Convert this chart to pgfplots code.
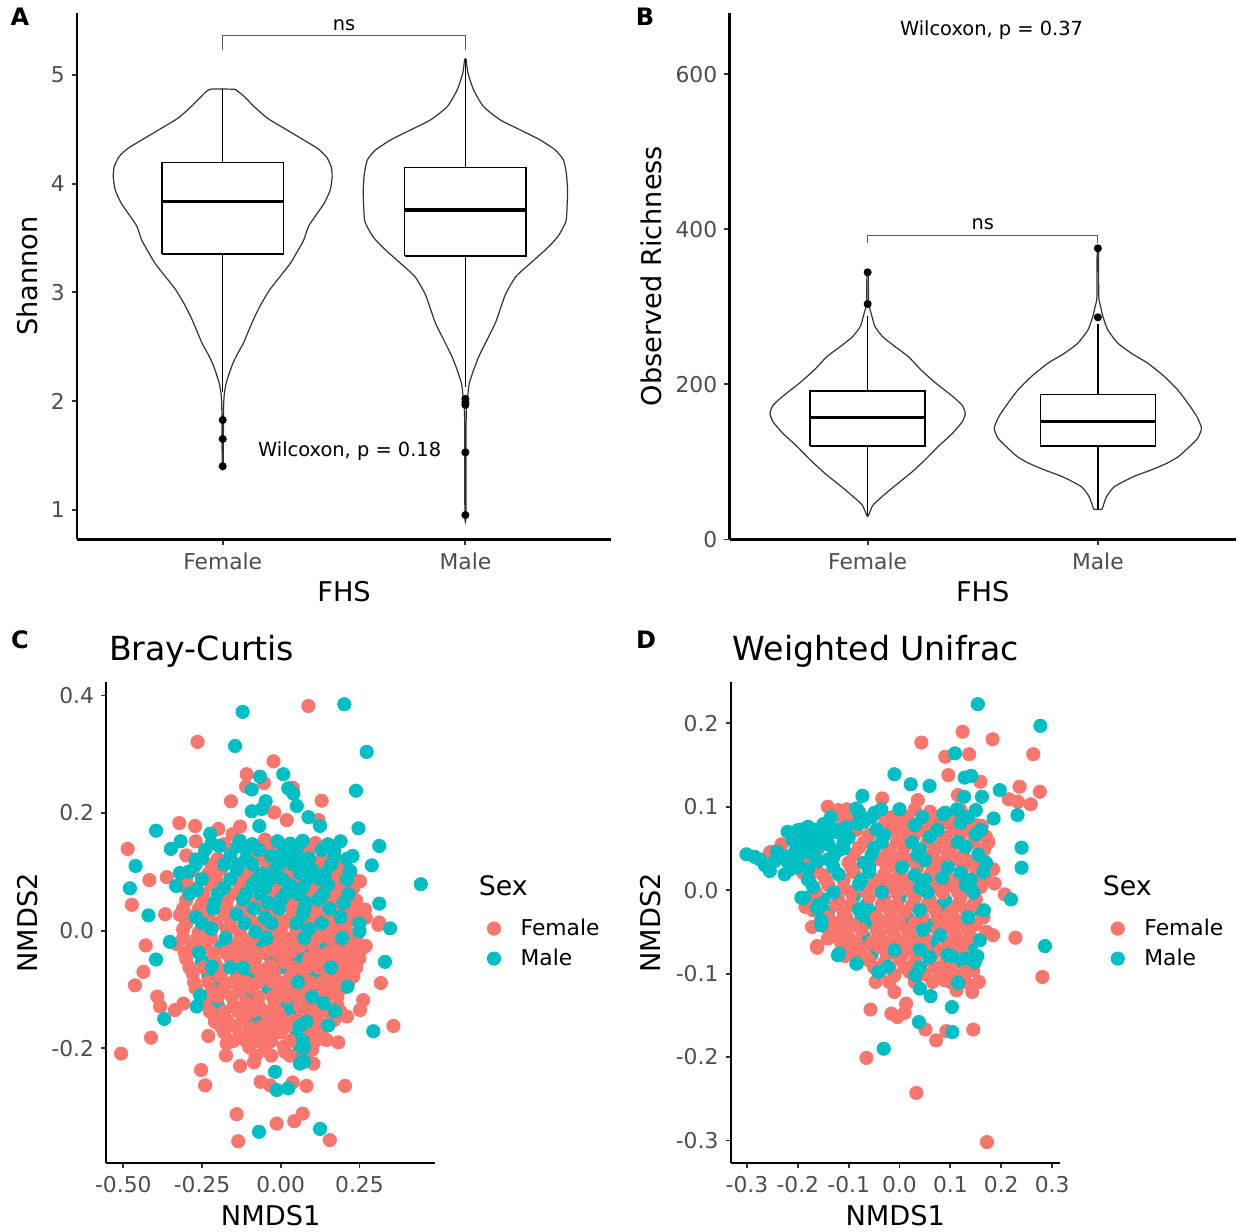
\documentclass[border=0pt]{standalone}
\usepackage{fontspec}
\setmainfont{DejaVu Sans}
\usepackage{pgfplots}
\pgfplotsset{compat=1.18}
\definecolor{fem}{HTML}{F8766D}
\definecolor{mal}{HTML}{00BFC4}
\definecolor{tickgray}{HTML}{4D4D4D}
\definecolor{vline}{HTML}{333333}
\pgfplotsset{
  gg/.style={
    scale only axis, anchor=south west,
    axis x line*=bottom, axis y line*=left,
    axis line style={line width=1.1pt, black, -},
    tick align=outside, major tick length=2.6pt,
    every tick/.style={line width=0.9pt, black!80},
    tick label style={font=\fontsize{10.9}{13}\selectfont, text=tickgray},
    xticklabel style={anchor=north, inner sep=0pt},
    yticklabel style={anchor=east, inner sep=0pt},
    xticklabel shift=3.8pt, yticklabel shift=3.35pt,
    label style={font=\fontsize{13.6}{16}\selectfont},
    clip=false,
  },
  vio/.style={draw=vline, line width=0.6pt, fill=white, smooth, tension=0.35, mark=none},
  bx/.style={draw=black, line width=0.75pt, fill=white, mark=none},
  wh/.style={draw=black, line width=0.75pt, mark=none},
  md/.style={draw=black, line width=1.7pt, mark=none},
  outl/.style={only marks, mark=*, mark size=1.8pt, black},
  sc/.style={only marks, mark=*, mark size=3.33pt},
  sleg/.style={legend style={draw=none, fill=none, inner sep=0pt, font=\fontsize{10.9}{13}\selectfont, row sep=1.2pt, /tikz/every odd column/.append style={column sep=8pt}}, legend cell align=left},
}
\begin{document}
\begin{tikzpicture}
\path[use as bounding box] (0,0) rectangle (619.5pt,616pt);
% ---------------- Panel A ----------------
\begin{axis}[gg, at={(38.55pt,346.25pt)}, width=266.95pt, height=263.35pt,
  xmin=0.4, xmax=2.6, ymin=0.726, ymax=5.573,
  xtick={1,2}, xticklabels={Female,Male},
  ytick={1,2,3,4,5}, yticklabels={1,2,3,4,5},
  xlabel={FHS}, ylabel={Shannon},
  xlabel style={at={([yshift=-26.25pt]axis description cs:0.5,0)}, anchor=center},
  ylabel style={at={([xshift=-24.7pt]axis description cs:0,0.5)}, anchor=center},
]
\addplot[vio] coordinates {(1.052,4.869) (1.089,4.802) (1.130,4.709) (1.185,4.602) (1.253,4.510) (1.322,4.418) (1.390,4.326) (1.427,4.249) (1.447,4.157) (1.451,4.065) (1.443,3.942) (1.418,3.820) (1.380,3.697) (1.353,3.605) (1.334,3.482) (1.311,3.390) (1.279,3.268) (1.236,3.145) (1.193,3.022) (1.160,2.899) (1.132,2.777) (1.108,2.654) (1.085,2.531) (1.062,2.439) (1.042,2.347) (1.027,2.255) (1.014,2.163) (1.007,2.071) (1.004,1.979) (1.003,1.8) (1.002,1.40)
(0.998,1.40) (0.997,1.8) (0.996,1.979) (0.993,2.071) (0.986,2.163) (0.973,2.255) (0.958,2.347) (0.938,2.439) (0.915,2.531) (0.892,2.654) (0.868,2.777) (0.840,2.899) (0.807,3.022) (0.764,3.145) (0.721,3.268) (0.689,3.390) (0.666,3.482) (0.647,3.605) (0.620,3.697) (0.582,3.820) (0.557,3.942) (0.549,4.065) (0.553,4.157) (0.573,4.249) (0.610,4.326) (0.678,4.418) (0.747,4.510) (0.815,4.602) (0.870,4.709) (0.911,4.802) (0.948,4.869) (1.052,4.869)};
\addplot[vio] coordinates {(2.003,5.145) (2.011,5.016) (2.034,4.863) (2.075,4.709) (2.144,4.587) (2.226,4.495) (2.308,4.403) (2.370,4.311) (2.404,4.219) (2.416,4.096) (2.421,3.942) (2.419,3.789) (2.414,3.651) (2.381,3.513) (2.329,3.390) (2.267,3.267) (2.208,3.145) (2.167,2.991) (2.147,2.869) (2.123,2.715) (2.089,2.562) (2.055,2.408) (2.034,2.286) (2.016,2.163) (2.011,2.071) (2.005,1.948) (2.003,1.795) (2.002,0.95)
(1.998,0.95) (1.997,1.795) (1.995,1.948) (1.989,2.071) (1.984,2.163) (1.966,2.286) (1.945,2.408) (1.911,2.562) (1.877,2.715) (1.853,2.869) (1.833,2.991) (1.792,3.145) (1.733,3.267) (1.671,3.390) (1.619,3.513) (1.586,3.651) (1.581,3.789) (1.579,3.942) (1.584,4.096) (1.596,4.219) (1.630,4.311) (1.692,4.403) (1.774,4.495) (1.856,4.587) (1.925,4.709) (1.966,4.863) (1.989,5.016) (1.997,5.145) (2.003,5.145)};
\addplot[wh] coordinates {(1,4.194) (1,4.869)};
\addplot[wh] coordinates {(1,3.353) (1,2.086)};
\addplot[wh] coordinates {(2,4.148) (2,5.145)};
\addplot[wh] coordinates {(2,3.335) (2,2.132)};
\addplot[bx] coordinates {(0.75,3.353) (1.25,3.353) (1.25,4.194) (0.75,4.194) (0.75,3.353)};
\addplot[bx] coordinates {(1.75,3.335) (2.25,3.335) (2.25,4.148) (1.75,4.148) (1.75,3.335)};
\addplot[md] coordinates {(0.75,3.835) (1.25,3.835)};
\addplot[md] coordinates {(1.75,3.758) (2.25,3.758)};
\addplot[outl] coordinates {(1,1.826) (1,1.651) (1,1.40) (2,2.02) (2,1.99) (2,1.965) (2,1.528) (2,0.951)};
\addplot[draw=black!65, line width=0.5pt, mark=none] coordinates {(1,5.233) (1,5.362) (2,5.362) (2,5.233)};
\node[anchor=base, font=\fontsize{9.7}{11}\selectfont] at (axis cs:1.5,5.411) {ns};
\node[anchor=base, font=\fontsize{9.7}{11}\selectfont] at (axis cs:1.523,1.494) {Wilcoxon, p = 0.18};
\end{axis}
% ---------------- Panel B ----------------
\begin{axis}[gg, at={(364.75pt,346.25pt)}, width=253.25pt, height=263.35pt,
  xmin=0.4, xmax=2.6, ymin=0, ymax=679.2,
  xtick={1,2}, xticklabels={Female,Male},
  ytick={0,200,400,600}, yticklabels={0,200,400,600},
  xlabel={FHS}, ylabel={Observed Richness},
  xlabel style={at={([yshift=-26.25pt]axis description cs:0.5,0)}, anchor=center},
  ylabel style={at={([xshift=-39.3pt]axis description cs:0,0.5)}, anchor=center},
]
\addplot[vio] coordinates {(1.003,344.7) (1.004,303.8) (1.007,300.4) (1.019,287.5) (1.032,274.6) (1.065,261.6) (1.119,248.7) (1.177,235.8) (1.232,218.6) (1.297,201.4) (1.362,186.3) (1.410,173.4) (1.424,162.6) (1.411,151.8) (1.368,136.8) (1.305,119.5) (1.248,102.3) (1.185,85.1) (1.113,67.9) (1.061,54.9) (1.023,44.2) (1.007,33.4) (1.001,30.0)
(0.999,30.0) (0.993,33.4) (0.977,44.2) (0.939,54.9) (0.887,67.9) (0.815,85.1) (0.752,102.3) (0.695,119.5) (0.632,136.8) (0.589,151.8) (0.576,162.6) (0.590,173.4) (0.638,186.3) (0.703,201.4) (0.768,218.6) (0.823,235.8) (0.881,248.7) (0.935,261.6) (0.968,274.6) (0.981,287.5) (0.993,300.4) (0.996,303.8) (0.997,344.7) (1.003,344.7)};
\addplot[vio] coordinates {(2.003,375.7) (2.004,313.3) (2.012,300.4) (2.022,287.5) (2.043,270.3) (2.087,253.1) (2.145,240.2) (2.217,227.3) (2.289,210.1) (2.347,192.9) (2.391,175.7) (2.430,158.5) (2.450,143.5) (2.434,130.6) (2.398,119.8) (2.350,106.9) (2.300,98.3) (2.232,89.7) (2.155,81.1) (2.072,68.2) (2.038,55.3) (2.022,42.4) (2.017,39.0)
(1.983,39.0) (1.978,42.4) (1.962,55.3) (1.928,68.2) (1.845,81.1) (1.768,89.7) (1.700,98.3) (1.650,106.9) (1.602,119.8) (1.566,130.6) (1.550,143.5) (1.570,158.5) (1.609,175.7) (1.653,192.9) (1.711,210.1) (1.783,227.3) (1.855,240.2) (1.913,253.1) (1.957,270.3) (1.978,287.5) (1.988,300.4) (1.996,313.3) (1.997,375.7) (2.003,375.7)};
\addplot[wh] coordinates {(1,191.5) (1,288)};
\addplot[wh] coordinates {(1,120.6) (1,30)};
\addplot[wh] coordinates {(2,187.2) (2,278)};
\addplot[wh] coordinates {(2,120.6) (2,39)};
\addplot[bx] coordinates {(0.75,120.6) (1.25,120.6) (1.25,191.5) (0.75,191.5) (0.75,120.6)};
\addplot[bx] coordinates {(1.75,120.6) (2.25,120.6) (2.25,187.2) (1.75,187.2) (1.75,120.6)};
\addplot[md] coordinates {(0.75,157.1) (1.25,157.1)};
\addplot[md] coordinates {(1.75,151.9) (2.25,151.9)};
\addplot[outl] coordinates {(1,344.5) (1,303.7) (2,375.5) (2,286.5)};
\addplot[draw=black!65, line width=0.5pt, mark=none] coordinates {(1,382.1) (1,392.6) (2,392.6) (2,382.1)};
\node[anchor=base, font=\fontsize{9.7}{11}\selectfont] at (axis cs:1.5,399.6) {ns};
\node[anchor=base, font=\fontsize{9.7}{11}\selectfont] at (axis cs:1.538,649.5) {Wilcoxon, p = 0.37};
\end{axis}
% ---------------- Panel C ----------------
\begin{axis}[gg, sleg, at={(53.15pt,34.5pt)}, width=164.35pt, height=240.25pt,
  xmin=-0.554, xmax=0.490, ymin=-0.395, ymax=0.422,
  xtick={-0.5,-0.25,0,0.25}, xticklabels={-0.50,-0.25,0.00,0.25},
  ytick={-0.2,0,0.2,0.4}, yticklabels={-0.2,0.0,0.2,0.4},
  xlabel={NMDS1}, ylabel={NMDS2},
  xlabel style={at={([yshift=-26.1pt]axis description cs:0.5,0)}, anchor=center},
  ylabel style={at={([xshift=-39.3pt]axis description cs:0,0.5)}, anchor=center},
  legend style={at={(axis description cs:1.158,0.4566)}, anchor=west},
]
\addplot[sc, mal, forget plot] coordinates {(-0.19,-0.027) (-0.06,-0.023) (0.14,-0.027) (-0.25,-0.052) (-0.03,-0.047) (0.05,-0.052) (-0.23,-0.077) (-0.10,-0.072) (0.11,-0.078) (-0.04,-0.098) (-0.20,-0.127) (0.02,-0.122) (0.14,-0.128) (-0.08,-0.152) (0.08,-0.148) (0.05,-0.177) (0.06,-0.203)
(-0.095,-0.0375) (0.07,-0.0375) (0.0,-0.0625) (-0.19,-0.0875) (-0.11,-0.1125) (0.03,-0.1375)};
\addplot[sc, fem] coordinates {(0.088,0.382) (-0.264,0.321) (-0.023,0.288) (-0.108,0.266) (-0.053,0.251) (-0.110,0.245) (0.038,0.243) (-0.158,0.220) (0.130,0.221) (-0.021,0.201) (0.019,0.188) (-0.322,0.183) (-0.272,0.178) (-0.198,0.173) (-0.129,0.177) (-0.153,0.164) (0.120,0.188) (0.167,0.143) (-0.486,0.139) (-0.417,0.086) (-0.362,0.091) (-0.473,0.044) (-0.367,0.028) (-0.309,0.026) (-0.272,0.026) (0.313,0.014) (0.268,0.036) (0.252,0.084) (0.226,0.090)
(-0.429,-0.025) (-0.436,-0.070) (-0.463,-0.093) (-0.392,-0.112) (-0.383,-0.129) (-0.336,-0.135) (-0.309,-0.124) (-0.412,-0.182) (-0.507,-0.209) (-0.230,-0.179) (-0.172,-0.192) (-0.174,-0.212) (-0.113,-0.186) (-0.253,-0.237) (-0.240,-0.263) (-0.129,-0.230) (-0.085,-0.224) (-0.064,-0.257) (-0.034,-0.263) (0.038,-0.258) (0.082,-0.264) (0.104,-0.226) (0.204,-0.264) (0.358,-0.162) (0.318,-0.089) (0.252,-0.135) (0.262,-0.118) (0.183,-0.190) (0.146,-0.186) (-0.140,-0.312) (-0.135,-0.358) (-0.013,-0.328) (0.043,-0.324) (0.070,-0.311) (0.156,-0.356) (0.014,-0.206) (-0.039,-0.180) (-0.209,-0.155) (0.231,-0.027) (0.262,-0.029) (0.310,0.010) (0.210,-0.146)
(-0.27,0.152) (-0.18,0.147) (-0.05,0.155) (0.11,0.149)
(-0.30,0.128) (-0.20,0.122) (-0.07,0.127) (0.13,0.121)
(-0.28,0.102) (-0.23,0.097) (-0.19,0.104) (-0.10,0.099) (0.02,0.103) (0.18,0.098)
(-0.31,0.076) (-0.27,0.072) (-0.22,0.079) (-0.13,0.074) (-0.01,0.077) (0.11,0.073) (0.19,0.078) (0.23,0.072)
(-0.30,0.052) (-0.25,0.047) (-0.17,0.053) (-0.08,0.048) (0.04,0.052) (0.16,0.047) (0.24,0.051)
(-0.32,0.027) (-0.23,0.022) (-0.18,0.028) (-0.10,0.023) (-0.01,0.026) (0.03,0.021) (0.11,0.027) (0.15,0.023) (0.23,0.026) (0.27,0.022)
(-0.31,0.002) (-0.26,-0.003) (-0.17,0.001) (-0.13,-0.002) (-0.04,0.003) (0.00,-0.001) (0.05,0.002) (0.13,-0.003) (0.17,0.002) (0.21,-0.002)
(-0.33,-0.023) (-0.28,-0.028) (-0.24,-0.022) (-0.15,-0.027) (-0.11,-0.022) (-0.02,-0.026) (0.02,-0.021) (0.06,-0.027) (0.10,-0.023) (0.18,-0.028) (0.22,-0.022) (0.27,-0.026)
(-0.30,-0.048) (-0.21,-0.053) (-0.16,-0.047) (-0.12,-0.052) (-0.08,-0.048) (0.01,-0.053) (0.09,-0.047) (0.13,-0.052) (0.17,-0.048) (0.21,-0.053) (0.25,-0.047)
(-0.28,-0.073) (-0.19,-0.078) (-0.14,-0.072) (-0.06,-0.077) (-0.02,-0.073) (0.03,-0.078) (0.07,-0.072) (0.15,-0.077) (0.19,-0.073) (0.23,-0.078)
(-0.27,-0.098) (-0.22,-0.103) (-0.18,-0.097) (-0.13,-0.102) (-0.09,-0.098) (0.00,-0.103) (0.04,-0.097) (0.08,-0.102) (0.12,-0.098) (0.16,-0.103) (0.20,-0.097)
(-0.24,-0.123) (-0.15,-0.128) (-0.11,-0.122) (-0.07,-0.127) (-0.02,-0.123) (0.06,-0.128) (0.10,-0.122) (0.18,-0.127)
(-0.21,-0.148) (-0.17,-0.153) (-0.12,-0.147) (-0.04,-0.152) (0.00,-0.148) (0.04,-0.153) (0.12,-0.147) (0.17,-0.152)
(-0.18,-0.173) (-0.13,-0.178) (-0.09,-0.172) (-0.05,-0.177) (0.00,-0.173) (0.09,-0.178) (0.13,-0.172)
(-0.10,-0.198) (-0.05,-0.203) (0.01,-0.197) (0.10,-0.202)
(-0.06,0.01) (0.08,-0.01) (0.14,-0.065) (0.06,-0.085) (-0.03,-0.06) (0.19,-0.04) (-0.09,-0.035) (0.1,0.04)
(-0.155,0.1375) (-0.03,0.1375) (0.09,0.1375)
(-0.22,0.1125) (-0.045,0.1125) (0.12,0.1125) (0.20,0.1125)
(-0.30,0.0875) (-0.205,0.0875) (-0.12,0.0875) (0.045,0.0875) (0.165,0.0875)
(-0.245,0.0625) (-0.155,0.0625) (-0.025,0.0625) (0.095,0.0625) (0.175,0.0625)
(-0.31,0.0375) (-0.26,0.0375) (-0.17,0.0375) (-0.125,0.0375) (-0.045,0.0375) (0.035,0.0375) (0.115,0.0375) (0.195,0.0375) (0.235,0.0375)
(-0.30,0.0125) (-0.205,0.0125) (-0.16,0.0125) (-0.075,0.0125) (0.01,0.0125) (0.09,0.0125) (0.17,0.0125) (0.21,0.0125)
(-0.31,-0.0125) (-0.265,-0.0125) (-0.22,-0.0125) (-0.13,-0.0125) (-0.09,-0.0125) (-0.005,-0.0125) (0.035,-0.0125) (0.115,-0.0125) (0.155,-0.0125) (0.24,-0.0125)
(-0.305,-0.0375) (-0.215,-0.0375) (-0.175,-0.0375) (-0.135,-0.0375) (-0.05,-0.0375) (-0.01,-0.0375) (0.03,-0.0375) (0.11,-0.0375) (0.15,-0.0375) (0.19,-0.0375) (0.23,-0.0375)
(-0.29,-0.0625) (-0.245,-0.0625) (-0.20,-0.0625) (-0.12,-0.0625) (-0.08,-0.0625) (-0.04,-0.0625) (0.04,-0.0625) (0.08,-0.0625) (0.12,-0.0625) (0.20,-0.0625) (0.24,-0.0625)
(-0.275,-0.0875) (-0.23,-0.0875) (-0.15,-0.0875) (-0.11,-0.0875) (-0.07,-0.0875) (-0.025,-0.0875) (0.015,-0.0875) (0.095,-0.0875) (0.135,-0.0875) (0.175,-0.0875) (0.215,-0.0875)
(-0.25,-0.1125) (-0.20,-0.1125) (-0.155,-0.1125) (-0.07,-0.1125) (-0.025,-0.1125) (0.02,-0.1125) (0.06,-0.1125) (0.14,-0.1125) (0.18,-0.1125)
(-0.225,-0.1375) (-0.18,-0.1375) (-0.135,-0.1375) (-0.09,-0.1375) (-0.05,-0.1375) (-0.01,-0.1375) (0.07,-0.1375) (0.11,-0.1375) (0.15,-0.1375) (0.19,-0.1375)
(-0.19,-0.1625) (-0.145,-0.1625) (-0.10,-0.1625) (-0.06,-0.1625) (-0.02,-0.1625) (0.02,-0.1625) (0.10,-0.1625) (0.14,-0.1625)
(-0.15,-0.1875) (-0.11,-0.1875) (-0.07,-0.1875) (-0.03,-0.1875) (0.03,-0.1875) (0.11,-0.1875)
(-0.08,-0.2125) (-0.03,-0.2125) (0.03,-0.2125) (0.08,-0.2125)};
\addlegendentry{Female}
\addplot[sc, mal] coordinates {(-0.121,0.372) (0.202,0.385) (-0.145,0.314) (0.273,0.304) (0.239,0.238) (0.008,0.266) (-0.066,0.262) (-0.092,0.240) (0.024,0.242) (0.040,0.233) (-0.048,0.220) (-0.092,0.203) (-0.060,0.207) (0.051,0.212) (0.088,0.193) (-0.068,0.178) (0.125,0.178) (0.247,0.174) (-0.396,0.170) (-0.318,0.152) (-0.349,0.139) (-0.461,0.110) (-0.479,0.072) (-0.420,0.026) (-0.332,0.076) (-0.293,0.100) (-0.269,0.121) (-0.224,0.165) (-0.195,0.144) (-0.138,0.143) (0.313,0.144) (0.445,0.079) (0.313,0.046) (0.289,0.111) (0.228,0.127) (0.347,0.004) (-0.267,0.069)
(0.331,-0.053) (-0.396,-0.049) (-0.370,-0.150) (0.212,-0.095) (0.294,-0.171) (-0.352,-0.019) (-0.219,-0.061) (-0.119,-0.063) (-0.018,-0.240) (-0.013,-0.271) (0.024,-0.268) (0.061,-0.226) (0.074,-0.223) (0.074,-0.199) (0.151,-0.161) (0.172,-0.137) (0.137,-0.123) (0.082,-0.155) (-0.069,-0.342) (0.125,-0.337) (-0.267,-0.129) (-0.256,-0.110)
(-0.22,0.148) (-0.13,0.153) (-0.09,0.147) (-0.01,0.152) (0.03,0.148) (0.07,0.153) (0.15,0.147) (0.19,0.152)
(-0.25,0.123) (-0.16,0.128) (-0.11,0.122) (-0.03,0.127) (0.01,0.122) (0.05,0.128) (0.09,0.123) (0.17,0.127) (0.21,0.122)
(-0.32,0.098) (-0.14,0.103) (-0.06,0.097) (-0.02,0.102) (0.06,0.098) (0.10,0.103) (0.14,0.097) (0.22,0.102)
(-0.18,0.073) (-0.09,0.078) (-0.05,0.072) (0.03,0.077) (0.07,0.073) (0.15,0.078)
(-0.21,0.048) (-0.12,0.053) (-0.04,0.047) (0.00,0.052) (0.08,0.048) (0.12,0.053) (0.20,0.047)
(-0.27,0.023) (-0.14,0.028) (-0.05,0.022) (0.07,0.028) (0.19,0.023)
(-0.22,0.003) (-0.08,-0.002) (0.09,0.003) (0.25,-0.001)
(-0.24,0.1375) (-0.11,0.1375) (-0.07,0.1375) (0.01,0.1375) (0.05,0.1375) (0.13,0.1375) (0.17,0.1375)
(-0.27,0.1125) (-0.18,0.1125) (-0.135,0.1125) (-0.09,0.1125) (-0.005,0.1125) (0.04,0.1125) (0.08,0.1125) (0.16,0.1125)
(-0.25,0.0875) (-0.16,0.0875) (-0.075,0.0875) (-0.035,0.0875) (0.005,0.0875) (0.085,0.0875) (0.125,0.0875) (0.21,0.0875)
(-0.29,0.0625) (-0.20,0.0625) (-0.11,0.0625) (-0.065,0.0625) (0.015,0.0625) (0.055,0.0625) (0.135,0.0625) (0.215,0.0625)
(-0.215,0.0375) (-0.085,0.0375) (-0.005,0.0375) (0.075,0.0375) (0.155,0.0375)
(-0.25,0.0125) (-0.115,0.0125) (-0.03,0.0125) (0.05,0.0125) (0.13,0.0125) (0.25,0.0125)
(-0.175,-0.0125) (-0.045,-0.0125) (0.075,-0.0125) (0.195,-0.0125)
(-0.26,-0.0375) (-0.16,-0.0625) (0.16,-0.0625) (0.055,-0.0875) (0.10,-0.1125) (0.06,-0.1625) (0.07,-0.1875)};
\addlegendentry{Male}
\end{axis}
% ---------------- Panel D ----------------
\begin{axis}[gg, sleg, at={(365.35pt,34.5pt)}, width=164.5pt, height=240.25pt,
  xmin=-0.332, xmax=0.315, ymin=-0.327, ymax=0.249,
  xtick={-0.3,-0.2,-0.1,0,0.1,0.2,0.3}, xticklabels={-0.3,-0.2,-0.1,0.0,0.1,0.2,0.3},
  ytick={-0.3,-0.2,-0.1,0,0.1,0.2}, yticklabels={-0.3,-0.2,-0.1,0.0,0.1,0.2},
  xlabel={NMDS1}, ylabel={NMDS2},
  xlabel style={at={([yshift=-26.1pt]axis description cs:0.5,0)}, anchor=center},
  ylabel style={at={([xshift=-40pt]axis description cs:0,0.5)}, anchor=center},
  legend style={at={(axis description cs:1.155,0.4566)}, anchor=west},
]
\addplot[sc, mal, forget plot] coordinates {(-0.15,-0.011) (-0.09,-0.008) (0.0,-0.009) (0.09,-0.012) (-0.14,-0.026) (-0.05,-0.027) (0.16,-0.026) (-0.15,-0.041) (-0.06,-0.038) (0.06,-0.042) (-0.07,-0.056) (0.14,-0.069) (0.12,-0.085)
(-0.065,-0.0175) (0.085,-0.0175) (-0.075,-0.0325) (0.015,-0.0325) (-0.105,-0.0475) (0.065,-0.0625) (-0.055,-0.0775)};
\addplot[sc, fem] coordinates {(0.043,0.177) (0.124,0.190) (0.183,0.181) (0.137,0.163) (0.090,0.160) (0.263,0.163) (0.096,0.138) (0.159,0.130) (0.236,0.124) (0.276,0.118) (0.215,0.109) (0.233,0.106) (0.258,0.103) (0.115,0.114) (-0.034,0.110) (-0.141,0.100) (-0.103,0.097) (-0.070,0.084) (0.162,0.077) (0.166,0.048) (0.184,0.025) (0.187,0.008) (0.207,-0.005) (-0.232,0.054) (-0.252,0.046) (0.036,0.108)
(0.228,-0.057) (0.281,-0.104) (0.184,-0.054) (0.171,-0.050) (0.145,-0.096) (0.156,-0.110) (0.143,-0.122) (0.145,-0.167) (0.092,-0.169) (0.072,-0.180) (0.051,-0.167) (0.033,-0.243) (0.172,-0.302) (-0.065,-0.201) (-0.057,-0.143) (-0.016,-0.148) (-0.004,-0.152) (0.010,-0.147) (0.013,-0.136) (-0.010,-0.122) (-0.047,-0.110) (-0.162,-0.069) (-0.141,-0.058) (-0.108,-0.079) (0.112,-0.120) (0.130,-0.110) (0.128,-0.098) (-0.172,-0.044) (-0.111,-0.050) (0.089,-0.108)
(-0.12,0.096) (-0.04,0.093) (0.03,0.097) (0.06,0.094) (0.12,0.096)
(-0.11,0.082) (-0.03,0.078) (0.0,0.081) (0.06,0.079) (0.09,0.082) (0.15,0.078)
(-0.06,0.066) (0.0,0.064) (0.03,0.067) (0.09,0.063) (0.12,0.066) (0.17,0.064)
(-0.08,0.051) (-0.02,0.048) (0.01,0.052) (0.07,0.049) (0.10,0.051) (0.16,0.048)
(-0.18,0.036) (-0.10,0.033) (-0.04,0.037) (-0.01,0.034) (0.02,0.036) (0.08,0.033) (0.11,0.037) (0.14,0.034)
(-0.19,0.021) (-0.15,0.018) (-0.09,0.022) (-0.03,0.019) (0.0,0.021) (0.06,0.018) (0.09,0.022) (0.15,0.019)
(-0.14,0.006) (-0.11,0.003) (-0.05,0.007) (-0.02,0.004) (0.01,0.006) (0.07,0.003) (0.10,0.007) (0.16,0.004)
(-0.18,-0.009) (-0.12,-0.012) (-0.06,-0.008) (-0.03,-0.011) (0.03,-0.009) (0.06,-0.012) (0.12,-0.008) (0.15,-0.011)
(-0.17,-0.024) (-0.11,-0.027) (-0.02,-0.023) (0.01,-0.026) (0.07,-0.024) (0.10,-0.027) (0.13,-0.023)
(-0.12,-0.039) (-0.09,-0.042) (-0.03,-0.038) (0.0,-0.041) (0.03,-0.039) (0.09,-0.042) (0.12,-0.038) (0.15,-0.041)
(-0.13,-0.054) (-0.10,-0.057) (-0.04,-0.053) (-0.01,-0.056) (0.02,-0.054) (0.05,-0.057) (0.11,-0.053) (0.14,-0.056)
(-0.10,-0.069) (-0.07,-0.072) (-0.04,-0.068) (0.02,-0.071) (0.05,-0.069) (0.08,-0.072) (0.11,-0.068)
(-0.06,-0.084) (-0.03,-0.087) (0.0,-0.083) (0.03,-0.086) (0.06,-0.084) (0.09,-0.087)
(-0.04,-0.099) (-0.01,-0.102) (0.02,-0.098) (0.05,-0.101) (0.08,-0.099) (0.11,-0.102)
(-0.255,0.045) (-0.232,0.055) (-0.208,0.036) (-0.177,0.015) (-0.185,-0.020) (-0.162,-0.067) (-0.147,-0.043) (-0.16,0.05)
(-0.095,0.0875) (-0.015,0.0875) (0.015,0.0875) (0.075,0.0875) (0.105,0.0875)
(-0.085,0.0725) (-0.015,0.0725) (0.015,0.0725) (0.045,0.0725) (0.105,0.0725) (0.135,0.0725)
(-0.07,0.0575) (-0.005,0.0575) (0.055,0.0575) (0.085,0.0575) (0.145,0.0575) (0.175,0.0575)
(-0.09,0.0425) (-0.025,0.0425) (0.005,0.0425) (0.065,0.0425) (0.095,0.0425) (0.125,0.0425)
(-0.165,0.0275) (-0.095,0.0275) (-0.025,0.0275) (0.035,0.0275) (0.065,0.0275) (0.125,0.0275) (0.16,0.0275)
(-0.145,0.0125) (-0.11,0.0125) (-0.04,0.0125) (-0.01,0.0125) (0.02,0.0125) (0.08,0.0125) (0.11,0.0125) (0.17,0.0125)
(-0.165,-0.0025) (-0.095,-0.0025) (-0.065,-0.0025) (-0.005,-0.0025) (0.025,-0.0025) (0.085,-0.0025) (0.115,-0.0025)
(-0.125,-0.0175) (-0.095,-0.0175) (-0.035,-0.0175) (-0.005,-0.0175) (0.025,-0.0175) (0.055,-0.0175) (0.115,-0.0175) (0.145,-0.0175)
(-0.14,-0.0325) (-0.105,-0.0325) (-0.045,-0.0325) (-0.015,-0.0325) (0.045,-0.0325) (0.075,-0.0325) (0.105,-0.0325) (0.165,-0.0325)
(-0.135,-0.0475) (-0.075,-0.0475) (-0.045,-0.0475) (-0.015,-0.0475) (0.015,-0.0475) (0.075,-0.0475) (0.105,-0.0475) (0.135,-0.0475)
(-0.115,-0.0625) (-0.085,-0.0625) (-0.055,-0.0625) (-0.025,-0.0625) (0.005,-0.0625) (0.035,-0.0625) (0.095,-0.0625) (0.125,-0.0625)
(-0.085,-0.0775) (-0.025,-0.0775) (0.005,-0.0775) (0.035,-0.0775) (0.065,-0.0775) (0.125,-0.0775)
(-0.05,-0.0925) (-0.02,-0.0925) (0.01,-0.0925) (0.07,-0.0925) (0.10,-0.0925)
(-0.02,-0.11) (0.03,-0.11) (0.065,-0.11) (0.10,-0.11)};
\addlegendentry{Female}
\addplot[sc, mal] coordinates {(0.154,0.223) (0.277,0.197) (0.109,0.164) (-0.010,0.139) (0.022,0.127) (0.059,0.125) (0.128,0.135) (0.141,0.137) (0.197,0.120) (0.162,0.112) (0.127,0.112) (-0.073,0.113) (-0.085,0.098) (-0.082,0.080) (-0.049,0.093) (-0.036,0.097) (0.232,0.090) (0.185,0.086) (0.240,0.051) (0.240,0.027) (0.219,-0.011) (-0.301,0.043) (-0.275,0.037) (-0.255,0.023) (-0.226,0.019) (-0.241,0.046) (-0.203,0.050) (-0.190,0.073) (-0.180,0.076) (-0.134,0.073) (-0.114,0.070) (0.086,0.091) (0.113,0.097) (0.165,0.022) (0.084,0.015) (0.166,-0.024) (-0.188,-0.009)
(0.286,-0.067) (0.158,-0.060) (0.153,-0.079) (0.102,-0.079) (0.128,-0.082) (0.040,-0.071) (0.059,-0.080) (0.031,-0.102) (0.040,-0.118) (0.061,-0.127) (0.103,-0.140) (0.104,-0.170) (0.038,-0.158) (-0.031,-0.190) (-0.023,-0.092) (-0.121,-0.078) (-0.085,-0.088) (-0.042,-0.098) (-0.154,-0.042) (0.115,-0.111) (0.148,-0.086)
(-0.08,0.094) (0.0,0.097) (0.09,0.093) (0.15,0.096)
(-0.15,0.079) (-0.07,0.082) (0.03,0.078) (0.12,0.081)
(-0.18,0.064) (-0.14,0.067) (-0.10,0.063) (-0.03,0.066) (0.06,0.064) (0.15,0.067)
(-0.20,0.049) (-0.16,0.052) (-0.12,0.048) (-0.05,0.051) (0.04,0.049) (0.13,0.052)
(-0.22,0.034) (-0.14,0.037) (-0.07,0.033) (0.05,0.036) (0.17,0.033)
(-0.12,0.019) (-0.06,0.022) (0.03,0.018) (0.12,0.021)
(-0.17,0.004) (-0.08,0.007) (0.04,0.003) (0.13,0.006)
(-0.21,0.06) (-0.19,0.045) (-0.17,0.06) (-0.15,0.07) (-0.14,0.055) (-0.16,0.035) (-0.2,0.03) (-0.18,0.025) (-0.13,0.04) (-0.11,0.05)
(-0.193,-0.009) (-0.162,-0.022) (-0.154,-0.036) (-0.119,-0.076) (-0.084,-0.088)
(0.04,-0.024) (-0.08,-0.023) (0.08,-0.054) (-0.01,-0.072)
(-0.135,0.0875) (-0.055,0.0875) (0.045,0.0875) (0.135,0.0875)
(-0.165,0.0725) (-0.125,0.0725) (-0.045,0.0725) (0.075,0.0725) (0.16,0.0725)
(-0.19,0.0575) (-0.15,0.0575) (-0.11,0.0575) (-0.035,0.0575) (0.025,0.0575) (0.115,0.0575)
(-0.21,0.0425) (-0.17,0.0425) (-0.13,0.0425) (-0.055,0.0425) (0.035,0.0425) (0.155,0.0425)
(-0.20,0.0275) (-0.13,0.0275) (-0.06,0.0275) (0.005,0.0275) (0.095,0.0275)
(-0.18,0.0125) (-0.075,0.0125) (0.05,0.0125) (0.14,0.0125)
(-0.13,-0.0025) (-0.035,-0.0025) (0.055,-0.0025) (0.145,-0.0025)
(-0.16,-0.0175) (0.135,-0.0325) (0.045,-0.0475) (0.095,-0.0775) (0.04,-0.0925)
(-0.285,0.04) (-0.265,0.03) (-0.245,0.035) (-0.225,0.04) (-0.215,0.025) (-0.195,0.06) (-0.175,0.045) (-0.155,0.06) (-0.22,0.07) (-0.2,0.072) (-0.145,0.08) (-0.125,0.07) (-0.105,0.075)};
\addlegendentry{Male}
\end{axis}
% ---------------- labels ----------------
\node[font=\bfseries\fontsize{12}{14}\selectfont] at (10pt,607.5pt) {A};
\node[font=\bfseries\fontsize{12}{14}\selectfont] at (322.5pt,607.5pt) {B};
\node[font=\bfseries\fontsize{12}{14}\selectfont] at (10pt,296pt) {C};
\node[font=\bfseries\fontsize{12}{14}\selectfont] at (323pt,296pt) {D};
\node[anchor=base west, inner sep=0pt, font=\fontsize{16.6}{19}\selectfont] at (54.3pt,285.5pt) {Bray-Curtis};
\node[anchor=base west, inner sep=0pt, font=\fontsize{16.6}{19}\selectfont] at (366.25pt,285.5pt) {Weighted Unifrac};
\node[anchor=base west, inner sep=0pt, font=\fontsize{13.4}{16}\selectfont] at (239.25pt,168.4pt) {Sex};
\node[anchor=base west, inner sep=0pt, font=\fontsize{13.4}{16}\selectfont] at (551.2pt,168.4pt) {Sex};
\end{tikzpicture}
\end{document}
